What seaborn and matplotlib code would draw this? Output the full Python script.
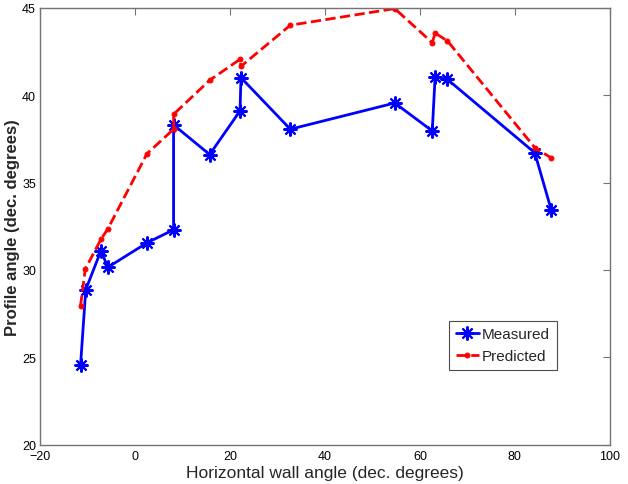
import numpy as np
import pandas as pd
import matplotlib
matplotlib.use("Agg")
import matplotlib.pyplot as plt
import seaborn as sns

# measured profile angles
meas_x = [-11.5, -10.4, -7.2, -5.75, 2.5, 8.1, 8.1, 15.7, 22.1, 22.3, 32.7, 54.7, 62.6, 63.2, 65.8, 84.2, 87.7]
meas_y = [24.55, 28.87, 31.1, 30.15, 31.55, 32.3, 38.3, 36.6, 39.1, 41.0, 38.05, 39.55, 37.95, 41.05, 40.9, 36.7, 33.4]

# predicted profile angles
pred_x = [-11.5, -10.5, -7.2, -5.75, 2.5, 8.1, 8.1, 15.7, 22.1, 22.3, 32.7, 54.7, 62.6, 63.2, 65.8, 84.2, 87.7]
pred_y = [27.95, 30.05, 31.75, 32.35, 36.65, 38.05, 38.9, 40.85, 42.05, 41.65, 44.0, 44.95, 43.0, 43.55, 43.1, 37.0, 36.4]

xticks = [-20, 0, 20, 40, 60, 80, 100]
yticks = [20, 25, 30, 35, 40, 45]

sns.set_style("white")
plt.rcParams["font.family"] = ["Liberation Sans", "DejaVu Sans"]

meas = pd.DataFrame({"x": meas_x, "y": meas_y})
pred = pd.DataFrame({"x": pred_x, "y": pred_y})

fig = plt.figure(figsize=(6.28, 4.85), dpi=100)
ax = fig.add_axes([0.064, 0.081, 0.907, 0.901])

sns.lineplot(data=meas, x="x", y="y", sort=False, estimator=None, ax=ax,
             color="blue", linewidth=2, marker=(8, 2, 0), markersize=10,
             markeredgewidth=1.5, markeredgecolor="blue", label="Measured")
sns.lineplot(data=pred, x="x", y="y", sort=False, estimator=None, ax=ax,
             color="red", linewidth=2, linestyle="--", marker="o", markersize=3.5,
             markeredgecolor="red", label="Predicted")

ax.set_xlim(-20, 100)
ax.set_ylim(20, 45)
ax.set_xticks(xticks)
ax.set_yticks(yticks)
ax.tick_params(direction="in", top=True, right=True, length=5, width=0.8,
               color="0.45", labelcolor="black", labelsize=9)
ax.tick_params(axis="x", pad=4)
ax.tick_params(axis="y", pad=3)
for s in ax.spines.values():
    s.set_color("0.45")
    s.set_linewidth(1)

ax.set_xlabel("Horizontal wall angle (dec. degrees)", fontsize=12.5)
ax.xaxis.set_label_coords(0.5, -0.046)
ax.set_ylabel("Profile angle (dec. degrees)", fontsize=12, fontweight="bold")
ax.yaxis.set_label_coords(-0.036, 0.5)

leg = ax.legend(loc="lower left", bbox_to_anchor=(0.718, 0.171), borderaxespad=0,
                fancybox=False, edgecolor="0.3", fontsize=11, handlelength=1.5,
                handletextpad=0.2, borderpad=0.45, labelspacing=0.5, framealpha=1)
leg.get_frame().set_linewidth(0.8)

fig.savefig("out.png", dpi=100)
